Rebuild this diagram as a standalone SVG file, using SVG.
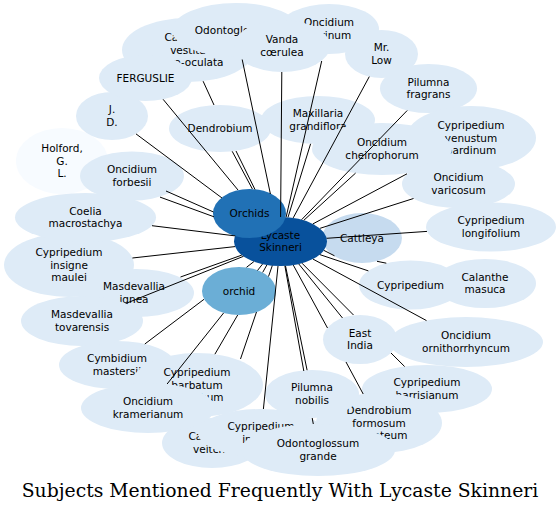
<svg xmlns="http://www.w3.org/2000/svg" width="560" height="512" viewBox="0 0 560 512">
<style>
.n ellipse{fill:#deebf7;stroke:none}
.n text{font-family:"DejaVu Sans",sans-serif;font-size:10.5px;fill:#000;text-anchor:middle}
#edges path{fill:none;stroke:#000;stroke-width:1}
.title{font-family:"DejaVu Serif",serif;font-size:18.8px;text-anchor:middle;fill:#000}
</style>
<rect width="560" height="512" fill="#fff"/>
<g id="nodes">
<g id="holford" class="n"><ellipse cx="62" cy="161" rx="46" ry="33" style="fill:#f7fbff"/><text><tspan x="62" y="152">Holford,</tspan><tspan x="62" y="164.6">G.</tspan><tspan x="62" y="177.2">L.</tspan></text></g>
<g id="calanthe_vestita" class="n"><ellipse cx="188" cy="50" rx="66" ry="32"/><text><tspan x="188" y="41">Calanthe</tspan><tspan x="188" y="53.6">vestita</tspan><tspan x="188" y="66.2">rubro-oculata</tspan></text></g>
<g id="odontoglossum" class="n"><ellipse cx="236" cy="30" rx="64" ry="27"/><text><tspan x="236" y="33.6">Odontoglossum</tspan></text></g>
<g id="tigrinum" class="n"><ellipse cx="329" cy="29" rx="50" ry="25"/><text><tspan x="329" y="26.3">Oncidium</tspan><tspan x="329" y="38.9">tigrinum</tspan></text></g>
<g id="vanda" class="n"><ellipse cx="282" cy="46" rx="48" ry="26"/><text><tspan x="282" y="43.3">Vanda</tspan><tspan x="282" y="55.9">cœrulea</tspan></text></g>
<g id="mrlow" class="n"><ellipse cx="381.5" cy="54" rx="36.5" ry="24"/><text><tspan x="381.5" y="51.3">Mr.</tspan><tspan x="381.5" y="63.9">Low</tspan></text></g>
<g id="pilumna_fragrans" class="n"><ellipse cx="428.5" cy="88.5" rx="48.5" ry="24.5"/><text><tspan x="428.5" y="85.8">Pilumna</tspan><tspan x="428.5" y="98.4">fragrans</tspan></text></g>
<g id="pardinum" class="n"><ellipse cx="471" cy="138" rx="65" ry="32"/><text><tspan x="471" y="129">Cypripedium</tspan><tspan x="471" y="141.6">venustum</tspan><tspan x="471" y="154.2">pardinum</tspan></text></g>
<g id="maxillaria" class="n"><ellipse cx="318" cy="120" rx="57" ry="24"/><text><tspan x="318" y="117.3">Maxillaria</tspan><tspan x="318" y="129.9">grandiflora</tspan></text></g>
<g id="cheirophorum" class="n"><ellipse cx="382" cy="149" rx="70" ry="26"/><text><tspan x="382" y="146.3">Oncidium</tspan><tspan x="382" y="158.9">cheirophorum</tspan></text></g>
<g id="varicosum" class="n"><ellipse cx="458.5" cy="184" rx="56.5" ry="24"/><text><tspan x="458.5" y="181.3">Oncidium</tspan><tspan x="458.5" y="193.9">varicosum</tspan></text></g>
<g id="longifolium" class="n"><ellipse cx="491" cy="227" rx="65" ry="24.5"/><text><tspan x="491" y="224.3">Cypripedium</tspan><tspan x="491" y="236.9">longifolium</tspan></text></g>
<g id="cattleya" class="n"><ellipse cx="362" cy="238" rx="40" ry="25" style="fill:#c6dbef"/><text><tspan x="362" y="241.6">Cattleya</tspan></text></g>
<g id="lycaste" class="n"><ellipse cx="280.5" cy="241.5" rx="46.5" ry="24.5" style="fill:#08519c"/><text><tspan x="280.5" y="238.8">Lycaste</tspan><tspan x="280.5" y="251.4">Skinneri</tspan></text></g>
<g id="orchids" class="n"><ellipse cx="249.5" cy="213.5" rx="36.5" ry="24.5" style="fill:#2171b5"/><text><tspan x="249.5" y="217.1">Orchids</tspan></text></g>
<g id="orchid" class="n"><ellipse cx="239" cy="291" rx="37" ry="24" style="fill:#6baed6"/><text><tspan x="239" y="294.6">orchid</tspan></text></g>
<g id="masuca" class="n"><ellipse cx="485" cy="283.5" rx="51" ry="24.5"/><text><tspan x="485" y="280.8">Calanthe</tspan><tspan x="485" y="293.4">masuca</tspan></text></g>
<g id="cypripedium" class="n"><ellipse cx="410.5" cy="285" rx="51.5" ry="24.5"/><text><tspan x="410.5" y="288.6">Cypripedium</tspan></text></g>
<g id="east_india" class="n"><ellipse cx="360" cy="339.5" rx="37" ry="24.5"/><text><tspan x="360" y="336.8">East</tspan><tspan x="360" y="349.4">India</tspan></text></g>
<g id="ornithorrhyncum" class="n"><ellipse cx="466" cy="342" rx="77" ry="25"/><text><tspan x="466" y="339.3">Oncidium</tspan><tspan x="466" y="351.9">ornithorrhyncum</tspan></text></g>
<g id="harrisianum" class="n"><ellipse cx="427" cy="389" rx="65" ry="24"/><text><tspan x="427" y="386.3">Cypripedium</tspan><tspan x="427" y="398.9">harrisianum</tspan></text></g>
<g id="formosum" class="n"><ellipse cx="379" cy="423" rx="63" ry="30"/><text><tspan x="379" y="414">Dendrobium</tspan><tspan x="379" y="426.6">formosum</tspan><tspan x="379" y="439.2">giganteum</tspan></text></g>
<g id="veitchii" class="n"><ellipse cx="212" cy="443" rx="50" ry="25"/><text><tspan x="212" y="440.3">Calanthe</tspan><tspan x="212" y="452.9">veitchii</tspan></text></g>
<g id="insigne" class="n"><ellipse cx="261" cy="433" rx="63" ry="24"/><text><tspan x="261" y="430.3">Cypripedium</tspan><tspan x="261" y="442.9">insigne</tspan></text></g>
<g id="grande" class="n"><ellipse cx="318" cy="450" rx="77" ry="26"/><text><tspan x="318" y="447.3">Odontoglossum</tspan><tspan x="318" y="459.9">grande</tspan></text></g>
<g id="pilumna_nobilis" class="n"><ellipse cx="312" cy="394" rx="47" ry="24"/><text><tspan x="312" y="391.3">Pilumna</tspan><tspan x="312" y="403.9">nobilis</tspan></text></g>
<g id="mastersii" class="n"><ellipse cx="117" cy="365" rx="58" ry="24"/><text><tspan x="117" y="362.3">Cymbidium</tspan><tspan x="117" y="374.9">mastersii</tspan></text></g>
<g id="barbatum" class="n"><ellipse cx="197" cy="385" rx="66" ry="32"/><text><tspan x="197" y="376">Cypripedium</tspan><tspan x="197" y="388.6">barbatum</tspan><tspan x="197" y="401.2">superbum</tspan></text></g>
<g id="kramerianum" class="n"><ellipse cx="148" cy="408" rx="67" ry="25"/><text><tspan x="148" y="405.3">Oncidium</tspan><tspan x="148" y="417.9">kramerianum</tspan></text></g>
<g id="maulei" class="n"><ellipse cx="69" cy="265" rx="65" ry="32"/><text><tspan x="69" y="256">Cypripedium</tspan><tspan x="69" y="268.6">insigne</tspan><tspan x="69" y="281.2">maulei</tspan></text></g>
<g id="ignea" class="n"><ellipse cx="136" cy="293" rx="58" ry="24"/><text><tspan x="134" y="290.3">Masdevallia</tspan><tspan x="134" y="302.9">ignea</tspan></text></g>
<g id="tovarensis" class="n"><ellipse cx="82" cy="321" rx="61" ry="25"/><text><tspan x="82" y="318.3">Masdevallia</tspan><tspan x="82" y="330.9">tovarensis</tspan></text></g>
<g id="coelia" class="n"><ellipse cx="85.5" cy="217.5" rx="70.5" ry="24.5"/><text><tspan x="85.5" y="214.8">Coelia</tspan><tspan x="85.5" y="227.4">macrostachya</tspan></text></g>
<g id="forbesii" class="n"><ellipse cx="132" cy="176" rx="52" ry="24.5"/><text><tspan x="132" y="173.3">Oncidium</tspan><tspan x="132" y="185.9">forbesii</tspan></text></g>
<g id="jd" class="n"><ellipse cx="112" cy="116" rx="36" ry="24"/><text><tspan x="112" y="113.3">J.</tspan><tspan x="112" y="125.9">D.</tspan></text></g>
<g id="ferguslie" class="n"><ellipse cx="145.5" cy="78" rx="46.5" ry="23"/><text><tspan x="145.5" y="81.6">FERGUSLIE</tspan></text></g>
<g id="dendrobium" class="n"><ellipse cx="220" cy="128.5" rx="51" ry="23.5"/><text><tspan x="220" y="132.1">Dendrobium</tspan></text></g>
</g>
<g id="edges">
<path d="M281.8,72 L280.6,217"/>
<path d="M242.2,59.5 L270.4,194"/>
<path d="M321.7,61 L286.1,217.2"/>
<path d="M369.3,76.6 L293.2,217.9"/>
<path d="M407.2,110.5 L301.6,219.7"/>
<path d="M310.6,143.8 L288,217.3"/>
<path d="M407,173.8 L312.9,223.9"/>
<path d="M355.6,173.1 L303.8,220.3"/>
<path d="M413.5,198.5 L320.1,228.3"/>
<path d="M427,231.4 L326.6,238.3"/>
<path d="M368.4,270.9 L319.8,254.6"/>
<path d="M386.3,263.2 L377,261.3 M334.5,255.8 L323.9,250.4"/>
<path d="M342.5,318 L298.8,264"/>
<path d="M426.5,320.6 L313,259.1"/>
<path d="M404.6,366.5 L391,353 M353.5,315 L302,263.2"/>
<path d="M363.2,394 L346,362 M327.5,328 L293.3,265.1"/>
<path d="M307.1,370.2 L285.5,265.9"/>
<path d="M312.2,418 L313.3,424 M303.8,371 L284.9,265.9"/>
<path d="M263.4,409 L278,266"/>
<path d="M240.5,359 L256.5,312 M268.5,276.5 L272.3,265.6"/>
<path d="M214.9,354.2 L237.7,315 M262.7,272.4 L266.9,264.9"/>
<path d="M167.1,384 L223.6,313 M257.5,270.5 L262.5,264.1"/>
<path d="M144.8,344 L204,299.3 M246.5,267.3 L253.9,261.6"/>
<path d="M125.7,303.5 L243.5,256.3"/>
<path d="M180.5,277 L241.8,255.1"/>
<path d="M132.4,258 L235,246.6"/>
<path d="M152,225.7 L235.3,235.9"/>
<path d="M166,191 L213.5,212"/>
<path d="M160,197.1 L214,216.8"/>
<path d="M136,133.9 L222,198"/>
<path d="M163.1,99.3 L238,190"/>
<path d="M203.1,81.2 L214,105 M236,151 L255,189.5"/>
<path d="M232.2,151.3 L252.4,189"/>
</g>
<text class="title" x="280" y="497">Subjects Mentioned Frequently With Lycaste Skinneri</text>
</svg>
